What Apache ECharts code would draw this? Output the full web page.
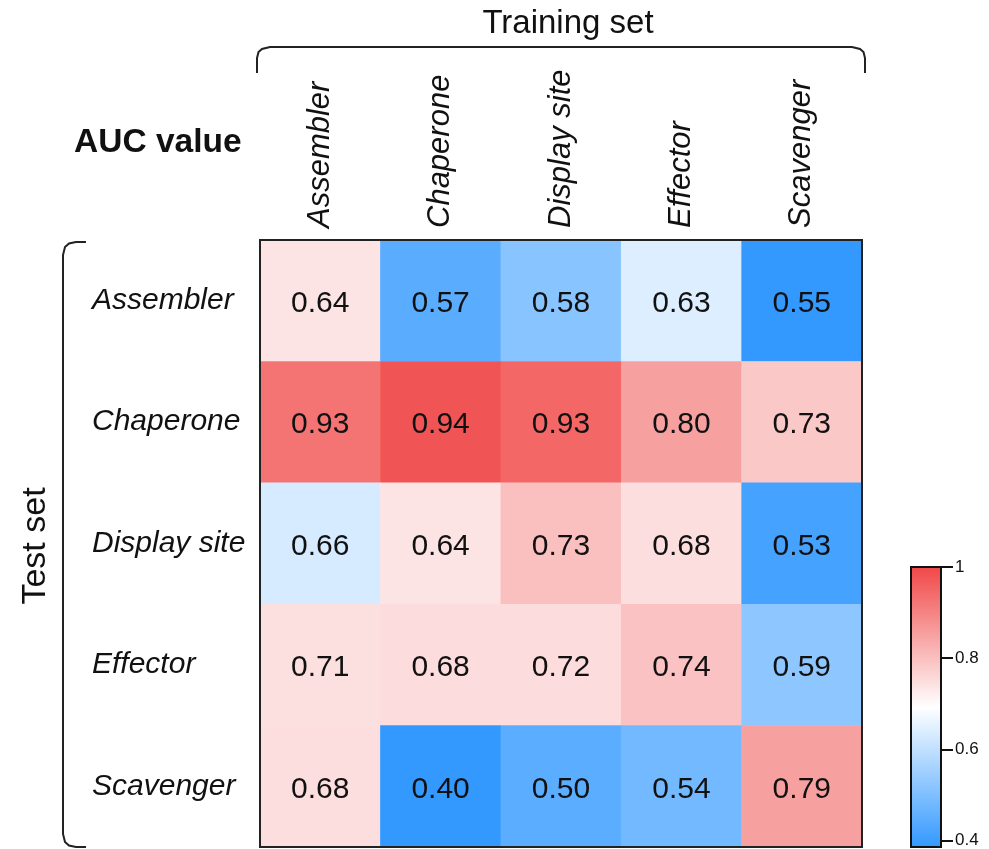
<!DOCTYPE html>
<html>
<head>
<meta charset="utf-8">
<script src="https://cdn.jsdelivr.net/npm/echarts@6/dist/echarts.min.js"></script>
<style>
html,body{margin:0;padding:0;background:#fff;}
#chart{width:989px;height:849px;}
</style>
</head>
<body>
<div id="chart"></div>
<script>
// Training set (columns) and test set (rows)
const trainingSets = ['Assembler', 'Chaperone', 'Display site', 'Effector', 'Scavenger'];
const testSets = ['Assembler', 'Chaperone', 'Display site', 'Effector', 'Scavenger'];

// AUC values printed in the cells (rows = test set, cols = training set)
const aucAssembler   = [0.64, 0.57, 0.58, 0.63, 0.55];
const aucChaperone   = [0.93, 0.94, 0.93, 0.80, 0.73];
const aucDisplaySite = [0.66, 0.64, 0.73, 0.68, 0.53];
const aucEffector    = [0.71, 0.68, 0.72, 0.74, 0.59];
const aucScavenger   = [0.68, 0.40, 0.50, 0.54, 0.79];

// Colour level of each cell
const colorAssembler   = [0.745, 0.457, 0.525, 0.649, 0.40];
const colorChaperone   = [0.928, 0.98, 0.95, 0.856, 0.79];
const colorDisplaySite = [0.64, 0.745, 0.803, 0.754, 0.427];
const colorEffector    = [0.752, 0.757, 0.757, 0.80, 0.534];
const colorScavenger   = [0.754, 0.40, 0.459, 0.494, 0.856];

// Colour bar ticks
const scaleMin = 0.4, scaleMax = 1.0, scaleStep = 0.2;

const aucRows = [aucAssembler, aucChaperone, aucDisplaySite, aucEffector, aucScavenger];
const colorRows = [colorAssembler, colorChaperone, colorDisplaySite, colorEffector, colorScavenger];

const data = [];
aucRows.forEach((row, r) => {
  row.forEach((v, c) => {
    data.push([c, r, colorRows[r][c], v]);
  });
});

const G = {left: 260, top: 240, width: 602, height: 607};
const CB = {left: 911, top: 567, width: 30, height: 280};
const FONT = 'Liberation Sans, Arial, Helvetica, sans-serif';

const chart = echarts.init(document.getElementById('chart'), null, {renderer: 'canvas'});
chart.setOption({
  backgroundColor: '#ffffff',
  animation: false,
  textStyle: {fontFamily: FONT, color: '#111'},
  grid: [
    {left: G.left, top: G.top, width: G.width, height: G.height},
    {left: CB.left, top: CB.top, width: CB.width, height: CB.height}
  ],
  xAxis: [
    {
      type: 'category', data: trainingSets, position: 'top', gridIndex: 0,
      axisLine: {show: false}, axisTick: {show: false}, splitLine: {show: false},
      axisLabel: {rotate: -90, fontStyle: 'italic', fontSize: 31, margin: 12, color: '#111', fontFamily: FONT}
    },
    {
      type: 'category', data: [''], gridIndex: 1, show: false
    }
  ],
  yAxis: [
    {
      type: 'category', data: testSets, inverse: true, gridIndex: 0,
      axisLine: {show: false}, axisTick: {show: false}, splitLine: {show: false},
      axisLabel: {align: 'left', fontStyle: 'italic', fontSize: 30, margin: 168, color: '#111', fontFamily: FONT}
    },
    {
      type: 'value', gridIndex: 1, position: 'right',
      min: scaleMin, max: scaleMax, interval: scaleStep,
      splitLine: {show: false},
      axisLine: {show: true, lineStyle: {color: '#111', width: 2}},
      axisTick: {show: true, length: 12, inside: false, lineStyle: {color: '#111', width: 2}},
      axisLabel: {fontSize: 17, margin: 14, color: '#111', fontFamily: FONT,
        formatter: v => (Math.round(v * 10) / 10).toString()}
    }
  ],
  visualMap: {
    type: 'continuous', min: scaleMin, max: scaleMax, dimension: 2, seriesIndex: 0,
    calculable: false, show: true, orient: 'vertical',
    left: CB.left, top: CB.top, itemWidth: CB.width, itemHeight: CB.height, padding: 0,
    inRange: {color: ['#3399FF', '#FFFFFF', '#F04848']}
  },
  series: [{
    type: 'heatmap', xAxisIndex: 0, yAxisIndex: 0,
    data: data,
    itemStyle: {borderWidth: 0},
    label: {
      show: true, fontSize: 30, color: '#111', fontFamily: FONT, offset: [0, 3],
      formatter: p => p.value[3].toFixed(2)
    },
    emphasis: {disabled: true}
  }],
  graphic: [
    {type: 'rect', z: 100, silent: true,
      shape: {x: G.left, y: G.top, width: G.width, height: G.height},
      style: {fill: 'none', stroke: '#222', lineWidth: 2}},
    {type: 'rect', z: 100, silent: true,
      shape: {x: CB.left, y: CB.top, width: CB.width, height: CB.height},
      style: {fill: 'none', stroke: '#111', lineWidth: 2}},
    {type: 'polyline', z: 100, silent: true,
      shape: {points: [[257,73],[257,58],[258.5,52],[262,49],[270,47],[852,47],[860,49],[863.5,52],[865,58],[865,73]]},
      style: {fill: 'none', stroke: '#222', lineWidth: 2}},
    {type: 'polyline', z: 100, silent: true,
      shape: {points: [[86,242],[76,242],[69,243.5],[65,247],[63,255],[63,834],[65,842],[69,845.5],[76,847],[86,847]]},
      style: {fill: 'none', stroke: '#222', lineWidth: 2}},
    {type: 'text', z: 100, silent: true, x: 568, y: 24,
      style: {text: 'Training set', fontSize: 33, fontFamily: FONT, fill: '#111', align: 'center', verticalAlign: 'middle'}},
    {type: 'text', z: 100, silent: true, x: 36, y: 546, rotation: Math.PI / 2,
      style: {text: 'Test set', fontSize: 34, fontFamily: FONT, fill: '#111', align: 'center', verticalAlign: 'middle'}},
    {type: 'text', z: 100, silent: true, x: 74, y: 143,
      style: {text: 'AUC value', fontSize: 33.5, fontWeight: 'bold', fontFamily: FONT, fill: '#111', align: 'left', verticalAlign: 'middle'}}
  ]
});
</script>
</body>
</html>
